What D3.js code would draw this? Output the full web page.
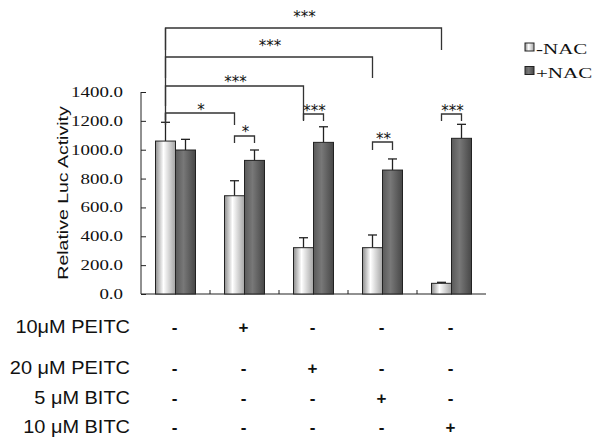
<!DOCTYPE html>
<html>
<head>
<meta charset="utf-8">
<script src="https://cdn.jsdelivr.net/npm/d3@7"></script>
<style>
  body { margin: 0; background: #fff; }
</style>
</head>
<body>
<script>
const groups = ["g1", "g2", "g3", "g4", "g5"];
const series = ["-NAC", "+NAC"];
const minusNac = [1060, 681, 321, 321, 74];
const minusNacErr = [130, 104, 69, 88, 7];
const plusNac = [998, 926, 1051, 859, 1079];
const plusNacErr = [74, 72, 108, 77, 97];
const yTicks = [0, 200, 400, 600, 800, 1000, 1200, 1400];

const rowLabels = ["10μM PEITC", "20 μM PEITC", "5 μM BITC", "10 μM BITC"];
const rowSigns = [
  ["-", "+", "-", "-", "-"],
  ["-", "-", "+", "-", "-"],
  ["-", "-", "-", "+", "-"],
  ["-", "-", "-", "-", "+"]
];

// significance: [from group, from series, to group, to series, label]
const sigPairs = [
  [0, 0, 4, 0, "***"],
  [0, 0, 3, 0, "***"],
  [0, 0, 2, 0, "***"],
  [0, 0, 1, 0, "*"],
  [1, 0, 1, 1, "*"],
  [2, 0, 2, 1, "***"],
  [3, 0, 3, 1, "**"],
  [4, 0, 4, 1, "***"]
];
// bracket layout: [line y, drop, label centre y]
const sigLayout = [
  [28, 22, 13], [57, 21, 42], [86, 34, 78], [113, 12, 106],
  [136, 7, 128], [114, 7, 106.5], [142, 8, 135], [114, 7, 106.5]
];

const w = 600, h = 448;
const mLeft = 141, mRight = 486, mTop = 92, mBottom = 294;

const svg = d3.select("body").append("svg")
  .attr("width", w).attr("height", h);

// widen glyphs like the original's stretched text
function stretch(sel, k) {
  sel.each(function() {
    const len = this.getComputedTextLength();
    d3.select(this).attr("textLength", len * k).attr("lengthAdjust", "spacingAndGlyphs");
  });
}

const defs = svg.append("defs");
const lg = defs.append("linearGradient").attr("id", "lightGrad");
lg.append("stop").attr("offset", "0%").attr("stop-color", "#8e8e8e");
lg.append("stop").attr("offset", "40%").attr("stop-color", "#ffffff");
lg.append("stop").attr("offset", "100%").attr("stop-color", "#a4a4a4");
const dg = defs.append("linearGradient").attr("id", "darkGrad");
dg.append("stop").attr("offset", "0%").attr("stop-color", "#5a5a5a");
dg.append("stop").attr("offset", "40%").attr("stop-color", "#787878");
dg.append("stop").attr("offset", "100%").attr("stop-color", "#474747");

const x = d3.scaleBand().domain(groups).range([mLeft, mRight]);
const xs = d3.scaleBand().domain(series).range([0, 40]);
const y = d3.scaleLinear().domain([0, 1400]).range([mBottom, mTop]);

const barX = (g, s) => x(groups[g]) + x.bandwidth() / 2 - 20 + xs(series[s]);

// axes
const yAxis = d3.axisLeft(y).tickValues(yTicks).tickSize(-5).tickPadding(18)
  .tickFormat(d3.format(".1f"));
const ya = svg.append("g").attr("transform", `translate(${mLeft},0)`).call(yAxis);
ya.select(".domain").attr("d", `M0,${mTop}V${mBottom}`).attr("stroke", "#222");
ya.selectAll(".tick line").attr("stroke", "#222");
ya.selectAll("text").attr("font-family", "Liberation Serif, serif")
  .attr("font-size", 14).attr("fill", "#111");
stretch(ya.selectAll("text"), 1.35);

const xAxis = d3.axisBottom(x).tickSize(0).tickFormat("");
const xa = svg.append("g").attr("transform", `translate(0,${mBottom})`).call(xAxis);
xa.select(".domain").attr("d", `M${mLeft},0H${mRight}`).attr("stroke", "#222");
xa.selectAll(".tick").remove();
svg.selectAll(".sep").data(groups.slice(1)).enter().append("line")
  .attr("x1", d => x(d)).attr("x2", d => x(d))
  .attr("y1", mBottom).attr("y2", mBottom - 4)
  .attr("stroke", "#222");

const yTitle = svg.append("text")
  .attr("transform", `translate(68,${(mTop + mBottom) / 2}) rotate(-90)`)
  .attr("text-anchor", "middle")
  .attr("font-family", "Liberation Sans, Arial, sans-serif")
  .attr("font-size", 15).attr("fill", "#111")
  .text("Relative Luc Activity");
stretch(yTitle, 1.3);

// bars
const vals = [minusNac, plusNac];
const errs = [minusNacErr, plusNacErr];
const fills = ["url(#lightGrad)", "url(#darkGrad)"];
vals.forEach((arr, s) => {
  const gSel = svg.append("g");
  gSel.selectAll("line.err").data(arr).enter().append("line")
    .attr("x1", (d, i) => barX(i, s) + 10).attr("x2", (d, i) => barX(i, s) + 10)
    .attr("y1", d => y(d)).attr("y2", (d, i) => y(d + errs[s][i]))
    .attr("stroke", "#222").attr("stroke-width", 1.3);
  gSel.selectAll("line.cap").data(arr).enter().append("line")
    .attr("x1", (d, i) => barX(i, s) + 5.5).attr("x2", (d, i) => barX(i, s) + 14.5)
    .attr("y1", (d, i) => y(d + errs[s][i])).attr("y2", (d, i) => y(d + errs[s][i]))
    .attr("stroke", "#222").attr("stroke-width", 1.3);
  gSel.selectAll("rect").data(arr).enter().append("rect")
    .attr("x", (d, i) => barX(i, s)).attr("width", xs.bandwidth())
    .attr("y", d => y(d)).attr("height", d => mBottom - y(d))
    .attr("fill", fills[s]).attr("stroke", "#222").attr("stroke-width", 1);
});

// significance brackets
sigPairs.forEach((b, k) => {
  const [by, drop, ly] = sigLayout[k];
  const x1 = barX(b[0], b[1]) + 10;
  const x2 = barX(b[2], b[3]) + 10;
  svg.append("path")
    .attr("d", `M${x1},${by + drop}V${by}H${x2}V${by + drop}`)
    .attr("fill", "none").attr("stroke", "#333").attr("stroke-width", 1.3);
  svg.append("text")
    .attr("x", (x1 + x2) / 2 + 1).attr("y", ly + 9)
    .attr("text-anchor", "middle")
    .attr("font-family", "DejaVu Sans, sans-serif")
    .attr("font-size", 15).attr("fill", "#111")
    .text(b[4]);
});
// connecting vertical from top bracket down to the "*" bracket
svg.append("line")
  .attr("x1", barX(0, 0) + 10).attr("x2", barX(0, 0) + 10)
  .attr("y1", 28).attr("y2", 106)
  .attr("stroke", "#333").attr("stroke-width", 1.3);
svg.append("line")
  .attr("x1", barX(0, 0) + 10).attr("x2", barX(0, 0) + 10)
  .attr("y1", 113).attr("y2", y(minusNac[0] + minusNacErr[0]))
  .attr("stroke", "#333").attr("stroke-width", 1.3);

// legend
const leg = svg.append("g").attr("transform", "translate(525,43)");
series.forEach((s, i) => {
  leg.append("rect").attr("x", 0).attr("y", i * 23.5)
    .attr("width", 9).attr("height", 8)
    .attr("fill", fills[i]).attr("stroke", "#222");
  const t = leg.append("text").attr("x", 11).attr("y", i * 23.5 + 11)
    .attr("font-family", "Liberation Serif, serif")
    .attr("font-size", 15).attr("fill", "#111")
    .text(s);
  stretch(t, 1.4);
});

// treatment table
const rowY = [333, 374, 404, 433];
rowLabels.forEach((lab, r) => {
  const t = svg.append("text").attr("x", 130).attr("y", rowY[r])
    .attr("text-anchor", "end")
    .attr("font-family", "Liberation Sans, Arial, sans-serif")
    .attr("font-size", 19).attr("fill", "#111")
    .text(lab);
  stretch(t, 1.05);
  svg.selectAll(null).data(rowSigns[r]).enter().append("text")
    .attr("x", (d, i) => x(groups[i]) + x.bandwidth() / 2 - 1)
    .attr("y", rowY[r])
    .attr("text-anchor", "middle")
    .attr("font-family", "Liberation Sans, Arial, sans-serif")
    .attr("font-weight", "bold")
    .attr("font-size", 17).attr("fill", "#111")
    .text(d => d);
});
</script>
</body>
</html>
